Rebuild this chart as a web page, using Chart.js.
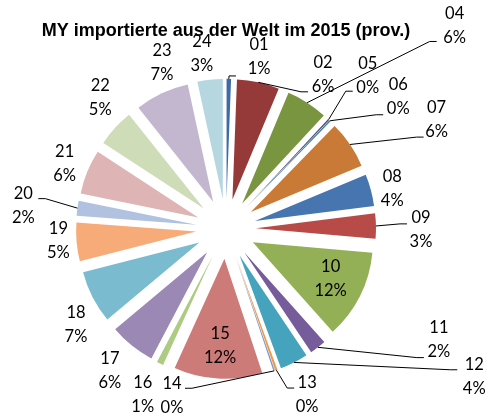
<!DOCTYPE html>
<html>
<head>
<meta charset="utf-8">
<script src="https://cdn.jsdelivr.net/npm/chart.js@4"></script>
<style>
  body { margin: 0; background: #fff; }
  canvas { display: block; }
</style>
</head>
<body>
<canvas id="chart" width="488" height="416"></canvas>
<script>
// HS chapters (03 is not in the source table)
const chapters = ["01", "02", "04", "05", "06", "07", "08", "09", "10", "11", "12", "13",
  "14", "15", "16", "17", "18", "19", "20", "21", "22", "23", "24"];
// share of imports in percent
const shares = [0.6, 5.7, 5.6, 0.2, 0.2, 6.4, 4.3, 3.4, 12.0, 2.2, 3.8, 0.3,
  0.2, 11.9, 0.9, 6.2, 7.1, 5.2, 2.0, 6.0, 5.1, 7.3, 3.4];
const sliceColors = ["#3c6ba5", "#953a39", "#7a9540", "#604a7b", "#31859c", "#c97a36",
  "#4775b0", "#b84a47", "#93b057", "#765c9a", "#46a3bd", "#f79646",
  "#7b9dcb", "#cd7b78", "#aecb84", "#9b88b4", "#7bbbd0", "#f7ab78",
  "#b0c2e0", "#deb4b4", "#cfdcb8", "#c3b7d0", "#b6d6e0"];

const EXPLODE = 30;

// where each label sits: distance from the pie centre, turn (deg) from the slice middle,
// and for labels with a leader line, where the line meets the label
const labelSpots = {
  "01": { r: 175, turn: 9.8, hook: [-23, 19] },
  "02": { r: 182, turn: 19.8, hook: [-15, 17] },
  "04": { r: 306, turn: 15.6, hook: [-18, 16] },
  "05": { r: 209, turn: -0.5, hook: [-15, 16] },
  "06": { r: 217, turn: 8.6, hook: [-15, 18] },
  "07": { r: 237, turn: 6.9, hook: [-13, 17] },
  "08": { r: 171, turn: 1.4 },
  "09": { r: 195, turn: 1.4, hook: [-14, -6] },
  "10": { r: 116, turn: -1.1 },
  "11": { r: 240, turn: -24.7, hook: [-15, 18] },
  "12": { r: 289, turn: -32.2, hook: [-17, -7] },
  "13": { r: 185, turn: -6.4, hook: [-13, -7] },
  "14": { r: 175, turn: 36.7, hook: [13, -7] },
  "15": { r: 117, turn: -0.2 },
  "16": { r: 186, turn: 0.5 },
  "17": { r: 183, turn: 0.5 },
  "18": { r: 178, turn: -5.4 },
  "19": { r: 168, turn: 0.9 },
  "20": { r: 204, turn: -1.4, hook: [15, -7] },
  "21": { r: 174, turn: -0.3 },
  "22": { r: 182, turn: 4 },
  "23": { r: 178, turn: 4.3 },
  "24": { r: 177, turn: -1.7 },
};

// move every slice outward along its middle, like an exploded Excel pie
const explodePlugin = {
  id: "explode",
  beforeDatasetDraw(chart, args) {
    const ctx = chart.ctx;
    args.meta.data.forEach((arc) => {
      const mid = (arc.startAngle + arc.endAngle) / 2;
      ctx.save();
      ctx.translate(Math.cos(mid) * EXPLODE, Math.sin(mid) * EXPLODE);
      arc.draw(ctx);
      ctx.restore();
    });
    return false;
  },
};

const labelPlugin = {
  id: "sliceLabels",
  afterDatasetsDraw(chart) {
    const ctx = chart.ctx;
    const meta = chart.getDatasetMeta(0);
    const values = chart.data.datasets[0].data;
    const total = values.reduce((a, b) => a + b, 0);
    ctx.save();
    ctx.font = "16.5px Lato";
    ctx.fillStyle = "#000";
    ctx.strokeStyle = "#000";
    ctx.lineWidth = 1;
    ctx.textAlign = "center";
    ctx.textBaseline = "middle";
    meta.data.forEach((arc, i) => {
      const code = chart.data.labels[i];
      const spot = labelSpots[code];
      const mid = (arc.startAngle + arc.endAngle) / 2;
      const a = mid + (spot.turn * Math.PI) / 180;
      const lx = arc.x + Math.cos(a) * spot.r;
      const ly = arc.y + Math.sin(a) * spot.r;
      if (spot.hook) {
        const edge = arc.outerRadius + EXPLODE;
        const sx = arc.x + Math.cos(mid) * edge;
        const sy = arc.y + Math.sin(mid) * edge;
        const hx = lx + spot.hook[0];
        const hy = ly + spot.hook[1];
        const bend = hx + Math.sign(sx - hx) * 7;
        ctx.beginPath();
        ctx.moveTo(sx, sy);
        ctx.lineTo(bend, hy);
        ctx.lineTo(hx, hy);
        ctx.stroke();
      }
      ctx.fillText(code, lx, ly - 12);
      ctx.fillText(Math.round((values[i] / total) * 100) + "%", lx, ly + 12);
    });
    ctx.restore();
  },
};

new Chart(document.getElementById("chart"), {
  type: "pie",
  data: {
    labels: chapters,
    datasets: [
      {
        data: shares,
        backgroundColor: sliceColors,
        borderWidth: 0,
      },
    ],
  },
  options: {
    responsive: false,
    devicePixelRatio: 1,
    animation: false,
    events: [],
    radius: 120,
    layout: { padding: { left: 0, right: 36, top: 12, bottom: 0 } },
    plugins: {
      legend: { display: false },
      tooltip: { enabled: false },
      title: {
        display: true,
        text: "MY importierte aus der Welt im 2015 (prov.)",
        color: "#000",
        font: { family: "Liberation Sans", size: 18, weight: "bold" },
        padding: { top: 8, bottom: 0 },
      },
    },
  },
  plugins: [explodePlugin, labelPlugin],
});
</script>
</body>
</html>
